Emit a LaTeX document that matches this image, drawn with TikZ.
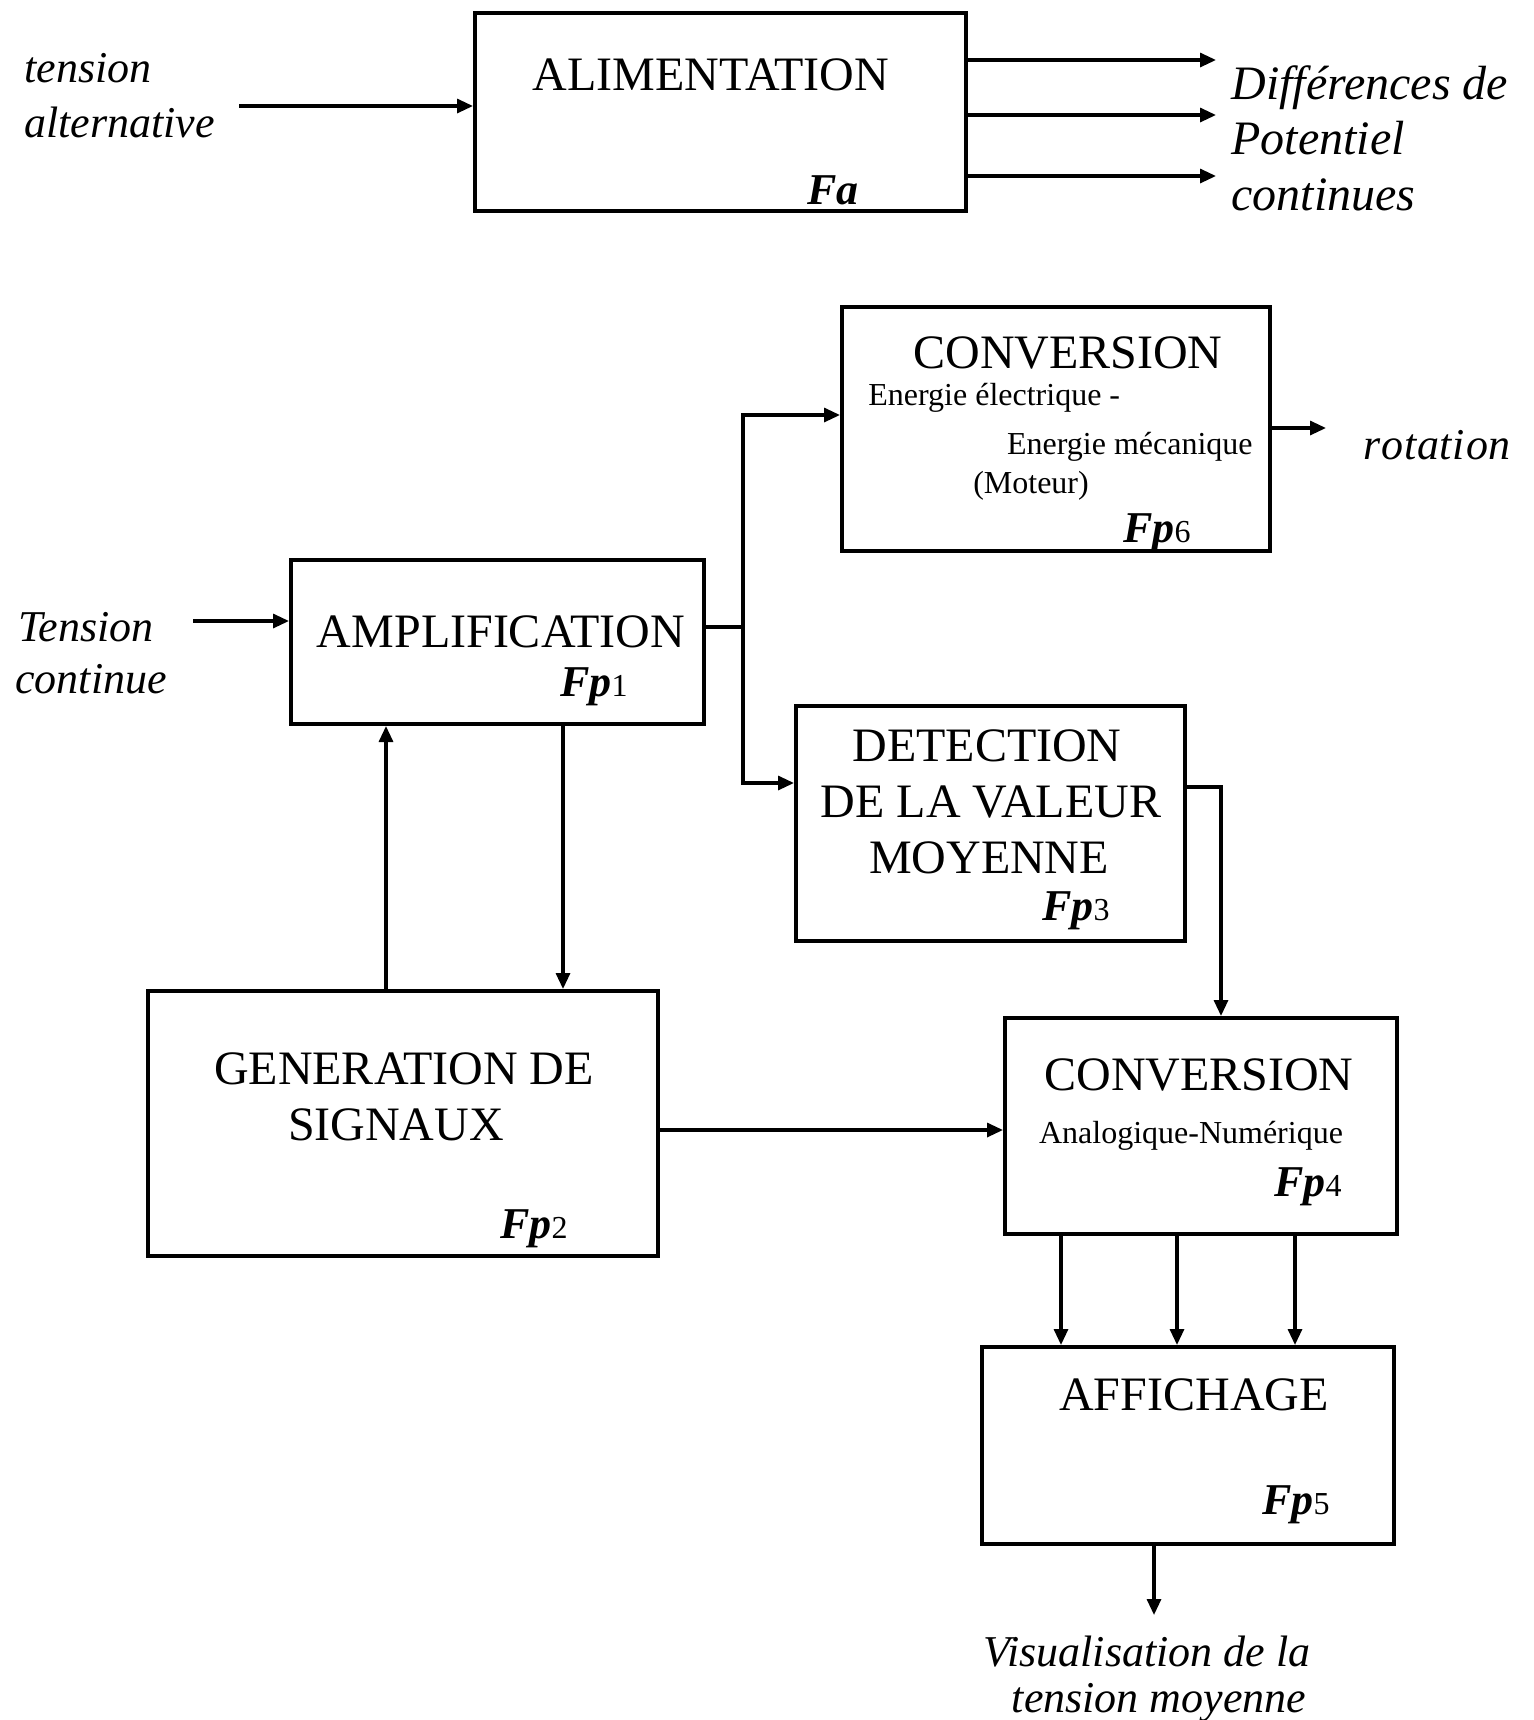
\documentclass[tikz,border=0pt]{standalone}
\usepackage{fontspec}
\setmainfont{Liberation Serif}
\usetikzlibrary{arrows.meta}
\newcommand{\fpl}[1]{{\fontsize{22}{22}\selectfont\bfseries\itshape Fp}{\fontsize{16}{16}\selectfont #1}}
\begin{document}
\begin{tikzpicture}[x=0.5pt,y=-0.5pt,
  box/.style={draw,line width=2pt,inner sep=0pt},
  arr/.style={line width=1.6pt,-{Triangle[length=8pt,width=7pt]}},
  ln/.style={line width=1.6pt},
  big/.style={font=\fontsize{24}{28}\selectfont,anchor=base,inner sep=0pt},
  small/.style={font=\fontsize{16}{19}\selectfont,anchor=base,inner sep=0pt},
  ital/.style={font=\fontsize{22}{26}\selectfont\itshape,anchor=base,inner sep=0pt},
  fp/.style={anchor=base,inner sep=0pt}]
\useasboundingbox (0,0) rectangle (1534,1720);
\fill[white] (0,0) rectangle (1534,1720);

% boxes
\node[box,minimum width=245.5pt,minimum height=99pt] (ali) at (720.5,112) {};
\node[box,minimum width=214pt,minimum height=122pt] (conv6) at (1056,429) {};
\node[box,minimum width=206.5pt,minimum height=82pt] (amp) at (497.5,642) {};
\node[box,minimum width=194.5pt,minimum height=117.5pt] (det) at (990.5,823.5) {};
\node[box,minimum width=255pt,minimum height=132.5pt] (gen) at (403,1123.5) {};
\node[box,minimum width=196pt,minimum height=108pt] (conv4) at (1201,1126) {};
\node[box,minimum width=206pt,minimum height=98.5pt] (aff) at (1188,1445.5) {};

% box texts
\node[big] (tali) at (711,90) {ALIMENTATION};
\node[fp] (fa) at (833,204) {{\fontsize{22}{22}\selectfont\bfseries\itshape Fa}};

\node[big] (tconv6) at (1068,368) {CONVERSION};
\node[small,anchor=base west] (tee) at (868,405) {Energie électrique -};
\node[small,anchor=base east] (tem) at (1253,454) {Energie mécanique};
\node[small] (tmot) at (1031,493) {(Moteur)};
\node[fp] (fp6) at (1157,542) {\fpl{6}};

\node[big] (tamp) at (501,647) {AMPLIFICATION};
\node[fp] (fp1) at (594,696) {\fpl{1}};

\node[big] (tdet1) at (987,761) {DETECTION};
\node[big] (tdet2) at (991,817) {DE LA VALEUR};
\node[big] (tdet3) at (989,873) {MOYENNE};
\node[fp] (fp3) at (1076,920) {\fpl{3}};

\node[big] (tgen1) at (404,1084) {GENERATION DE};
\node[big] (tgen2) at (396,1140) {SIGNAUX};
\node[fp] (fp2) at (534,1238) {\fpl{2}};

\node[big] (tconv4) at (1199,1090) {CONVERSION};
\node[small] (tan) at (1191,1143) {Analogique-Numérique};
\node[fp] (fp4) at (1308,1196) {\fpl{4}};

\node[big] (taff) at (1194,1410) {AFFICHAGE};
\node[fp] (fp5) at (1296,1514) {\fpl{5}};

% outside labels
\node[ital,anchor=base west] (lta1) at (24,82) {tension};
\node[ital,anchor=base west] (lta2) at (24,137) {alternative};
\node[ital,anchor=base west,font=\fontsize{24}{28}\selectfont\itshape] (ld1) at (1231,99) {Différences de};
\node[ital,anchor=base west,font=\fontsize{24}{28}\selectfont\itshape] (ld2) at (1231,154) {Potentiel};
\node[ital,anchor=base west,font=\fontsize{24}{28}\selectfont\itshape] (ld3) at (1231,210) {continues};
\node[ital,anchor=base west] (lrot) at (1363,459) {r\kern.4pt o\kern.4pt t\kern.4pt a\kern.4pt t\kern.4pt i\kern.4pt o\kern.4pt n};
\node[ital,anchor=base west] (ltc1) at (18,641) {Tension};
\node[ital,anchor=base west] (ltc2) at (15,693) {continue};
\node[ital] (lv1) at (1147,1666) {Visualisation de la};
\node[ital] (lv2) at (1159,1712) {tension moyenne};

% coordinates
\coordinate (tin) at (239,106);
\coordinate (o1) at (1216,60);
\coordinate (o2) at (1216,115);
\coordinate (o3) at (1216,176);
\coordinate (rot) at (1326,428);
\coordinate (tc) at (193,621);
\coordinate (jA) at (743,627);
\coordinate (j1) at (743,415);
\coordinate (j2) at (743,783);
\coordinate (j3) at (1221,787);
\coordinate (xu) at (386,0);
\coordinate (xd) at (563,0);
\coordinate (yg) at (0,1130);
\coordinate (x1) at (1061,0);
\coordinate (x2) at (1177,0);
\coordinate (x3) at (1295,0);
\coordinate (vout) at (1154,1615);

% connectors
\draw[arr] (tin) -- (tin -| ali.west);
\draw[arr] (ali.east |- o1) -- (o1);
\draw[arr] (ali.east |- o2) -- (o2);
\draw[arr] (ali.east |- o3) -- (o3);
\draw[arr] (conv6.east |- rot) -- (rot);
\draw[arr] (tc) -- (tc -| amp.west);
\draw[ln] (amp.east |- jA) -- (jA);
\draw[arr] (jA) -- (j1) -- (j1 -| conv6.west);
\draw[arr] (jA) -- (j2) -- (j2 -| det.west);
\draw[arr] (det.east |- j3) -- (j3) -- (j3 |- conv4.north);
\draw[arr] (xu |- gen.north) -- (xu |- amp.south);
\draw[arr] (xd |- amp.south) -- (xd |- gen.north);
\draw[arr] (gen.east |- yg) -- (conv4.west |- yg);
\draw[arr] (x1 |- conv4.south) -- (x1 |- aff.north);
\draw[arr] (x2 |- conv4.south) -- (x2 |- aff.north);
\draw[arr] (x3 |- conv4.south) -- (x3 |- aff.north);
\draw[arr] (vout |- aff.south) -- (vout);
\end{tikzpicture}
\end{document}
